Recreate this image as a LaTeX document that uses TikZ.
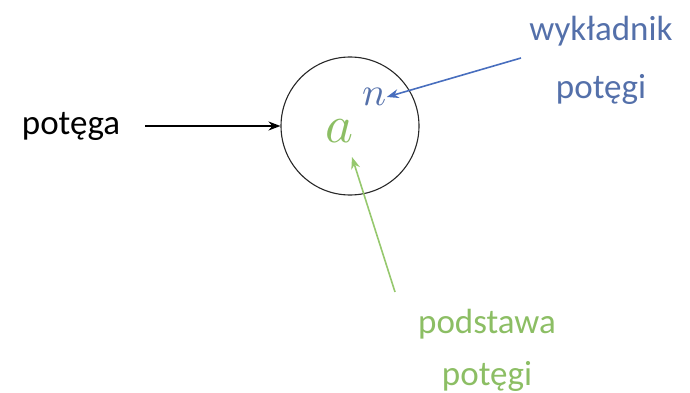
\documentclass[tikz,border=0pt]{standalone}
\usepackage{fontspec}
\setmainfont{Carlito}
\usetikzlibrary{arrows.meta}
\definecolor{bluetxt}{RGB}{84,112,170}
\definecolor{bluearr}{RGB}{72,110,190}
\definecolor{greentxt}{RGB}{140,190,100}
\definecolor{greenarr}{RGB}{150,200,110}
\definecolor{circ}{RGB}{40,40,40}
\tikzset{
  lbl/.style={font=\fontsize{35}{40}\selectfont, inner sep=0pt, align=center},
  arr/.style={-{Stealth[length=12pt,width=9pt]}, line width=1.6pt},
}
\begin{document}
\begin{tikzpicture}[x=1pt,y=-1pt]
\useasboundingbox (0,0) rectangle (690,393);
\node[draw=circ, line width=1.1pt, circle, minimum size=138pt, inner sep=0pt] (c) at (350,126) {};
\node[inner sep=0pt, text=greentxt, scale=5.3] (a) at (340,131) {$a$};
\node[inner sep=0pt, text=bluetxt, scale=4.0] (n) at (374,97) {$n$};
\node[lbl, text=black] (p) at (71,126) {potęga};
\node[lbl, text=bluetxt] (w) at (601,60) {wykładnik\\[18pt]potęgi};
\node[lbl, text=greentxt] (g) at (487,350) {podstawa\\[12pt]potęgi};
\coordinate (bs) at (521,58);
\coordinate (gs) at (395,292);
\draw[arr, black] (145,126) -- (c.west);
\draw[arr, bluearr] (bs) -- (n.east);
\draw[arr, greenarr] (gs) -- (352,157);
\end{tikzpicture}
\end{document}
